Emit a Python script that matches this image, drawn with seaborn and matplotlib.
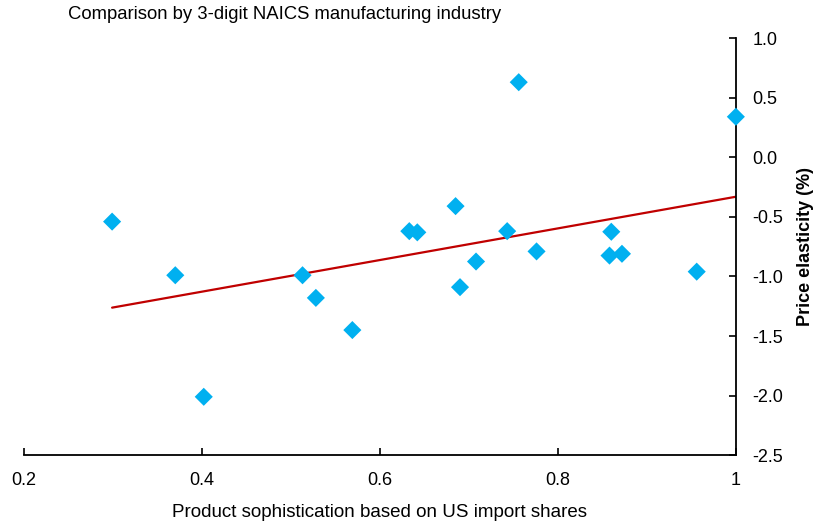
import pandas as pd
import matplotlib.pyplot as plt
import seaborn as sns

# product sophistication (x) vs price elasticity (y), one point per 3-digit NAICS industry
sophistication = [0.299, 0.370, 0.402, 0.513, 0.528, 0.569, 0.633, 0.642, 0.685, 0.690,
                  0.708, 0.743, 0.756, 0.776, 0.858, 0.860, 0.872, 0.956, 1.000]
elasticity = [-0.54, -0.99, -2.01, -0.99, -1.18, -1.45, -0.62, -0.63, -0.41, -1.09,
              -0.875, -0.62, 0.63, -0.79, -0.825, -0.625, -0.81, -0.96, 0.34]

x_ticks = [0.2, 0.4, 0.6, 0.8, 1.0]
x_tick_labels = ['0.2', '0.4', '0.6', '0.8', '1']
y_ticks = [-2.5, -2.0, -1.5, -1.0, -0.5, 0.0, 0.5, 1.0]

df = pd.DataFrame({'sophistication': sophistication, 'elasticity': elasticity})

sns.set_theme(style='white')
plt.rcParams['font.family'] = ['Liberation Sans', 'DejaVu Sans']
plt.rcParams['text.color'] = 'black'
plt.rcParams['axes.labelcolor'] = 'black'

fig = plt.figure(figsize=(8.14, 5.22), dpi=100)
ax = fig.add_axes([0.0295, 0.128, 0.8745, 0.799])

# fitted line over the data range
sns.regplot(data=df, x='sophistication', y='elasticity', scatter=False, ci=None,
            color='#C00000', line_kws={'lw': 1.6}, ax=ax)
sns.scatterplot(data=df, x='sophistication', y='elasticity', marker='D', s=85,
                color='#00B0F0', edgecolor='none', ax=ax, zorder=3, clip_on=False)

ax.set_xlim(0.2, 1.0)
ax.set_ylim(-2.5, 1.0)

# y axis sits on the right at x=1, x axis at the bottom
for side in ['left', 'top']:
    ax.spines[side].set_visible(False)
for side in ['right', 'bottom']:
    ax.spines[side].set_color('black')
    ax.spines[side].set_linewidth(1.3)

ax.yaxis.tick_right()
ax.yaxis.set_label_position('right')
ax.set_yticks(y_ticks)
ax.set_yticklabels([f'{v:.1f}' for v in y_ticks])
ax.set_xticks(x_ticks)
ax.set_xticklabels(x_tick_labels)

ax.tick_params(axis='y', direction='in', right=True, length=5, width=1.2,
               labelsize=13, pad=12, colors='black')
ax.tick_params(axis='x', direction='in', bottom=True, length=5, width=1.2,
               labelsize=13, pad=12, colors='black')

ax.set_xlabel('Product sophistication based on US import shares', fontsize=13.5,
              labelpad=11)
ax.set_ylabel('Price elasticity (%)', fontsize=13, fontweight='bold',
              rotation=90, labelpad=10)

fig.text(0.0835, 0.972, 'Comparison by 3-digit NAICS manufacturing industry',
         fontsize=13.3, ha='left', va='center')

plt.savefig('out.png', dpi=100)
plt.close()
